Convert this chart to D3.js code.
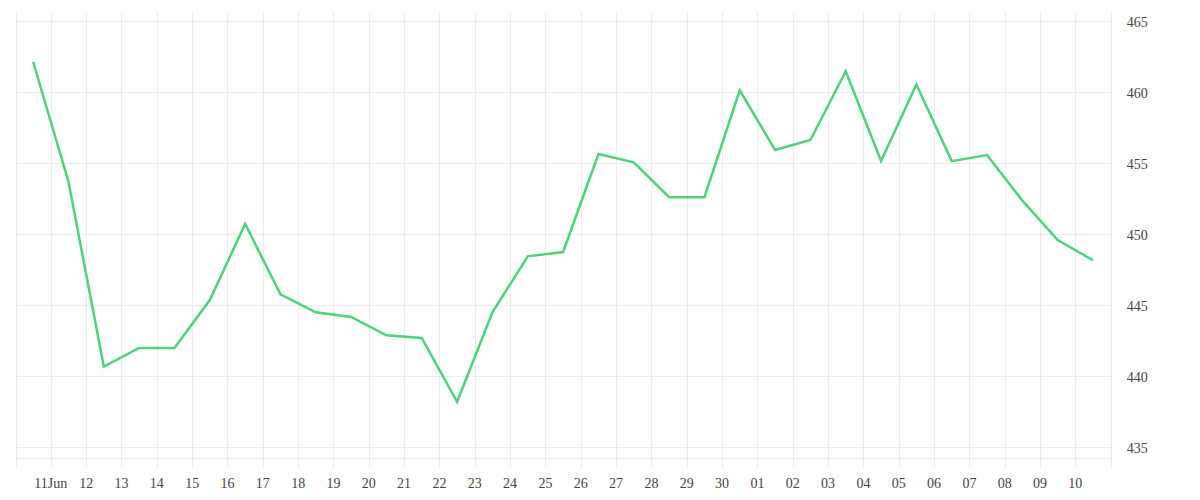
<!DOCTYPE html>
<html>
<head>
<meta charset="utf-8">
<script src="https://cdn.jsdelivr.net/npm/d3@7"></script>
<style>
  html, body { margin: 0; padding: 0; background: #ffffff; }
  svg { display: block; }
  text { font-family: "Liberation Serif", "DejaVu Serif", serif; fill: #444; }
</style>
</head>
<body>
<svg id="chart" width="1200" height="500"></svg>
<script>
// Daily values (one point per day, plotted at midday)
const startDate = "2023-06-10";
const values = [
  462.13, 453.7, 440.68, 442.0, 442.0, 445.37, 450.73, 445.77, 444.51, 444.18,
  442.89, 442.7, 438.21, 444.51, 448.45, 448.75, 455.65, 455.07, 452.61, 452.61,
  460.14, 455.94, 456.64, 461.48, 455.16, 460.54, 455.15, 455.58, 452.37, 449.6,
  448.17
];
const xTickLabels = [
  "11Jun", "12", "13", "14", "15", "16", "17", "18", "19", "20",
  "21", "22", "23", "24", "25", "26", "27", "28", "29", "30",
  "01", "02", "03", "04", "05", "06", "07", "08", "09", "10"
];
const yTicks = [435, 440, 445, 450, 455, 460, 465];
const yDomain = [434.25, 465.65];

(function () {
const svg = d3.select("#chart");
const mLeft = 15.5, mRight = 1110.7, mTop = 12, mBottom = 458, tickExt = 10;

const day0 = d3.utcParse("%Y-%m-%d")(startDate);
const dates = values.map((v, i) => d3.utcHour.offset(d3.utcDay.offset(day0, i), 12));
const data = values.map((v, i) => ({ date: dates[i], value: v }));

const xDomainEnd = d3.utcDay.offset(day0, values.length);
const x = d3.scaleUtc().domain([day0, xDomainEnd]).range([mLeft, mRight]);
const y = d3.scaleLinear().domain(yDomain).range([mBottom, mTop]);

const gridColor = "#ececec";

// vertical grid lines at each midnight (including borders)
const allDays = d3.utcDay.range(day0, d3.utcDay.offset(xDomainEnd, 1));
svg.append("g").selectAll("line").data(allDays).join("line")
  .attr("x1", d => Math.round(x(d)) + 0.5).attr("x2", d => Math.round(x(d)) + 0.5)
  .attr("y1", mTop).attr("y2", mBottom + tickExt)
  .attr("stroke", gridColor).attr("stroke-width", 1);

// horizontal grid lines
svg.append("g").selectAll("line").data(yTicks).join("line")
  .attr("x1", mLeft).attr("x2", mRight)
  .attr("y1", d => Math.round(y(d)) + 0.5).attr("y2", d => Math.round(y(d)) + 0.5)
  .attr("stroke", gridColor).attr("stroke-width", 1);

// bottom border line
svg.append("line")
  .attr("x1", mLeft).attr("x2", mRight)
  .attr("y1", mBottom + 0.5).attr("y2", mBottom + 0.5)
  .attr("stroke", gridColor).attr("stroke-width", 1);

// x labels
const labelDays = d3.utcDay.range(d3.utcDay.offset(day0, 1), xDomainEnd);
svg.append("g").selectAll("text").data(labelDays).join("text")
  .attr("x", d => x(d))
  .attr("y", 488)
  .attr("text-anchor", "middle")
  .attr("font-size", 14)
  .text((d, i) => xTickLabels[i]);

// y labels (right)
svg.append("g").selectAll("text").data(yTicks).join("text")
  .attr("x", mRight + 16)
  .attr("y", d => y(d) + 6)
  .attr("text-anchor", "start")
  .attr("font-size", 14)
  .text(d => d);

// line
const line = d3.line().x(d => x(d.date)).y(d => y(d.value));
svg.append("path").datum(data)
  .attr("d", line)
  .attr("fill", "none")
  .attr("stroke", "#4cd37b")
  .attr("stroke-width", 2.5)
  .attr("stroke-linejoin", "miter");
})();
</script>
</body>
</html>
